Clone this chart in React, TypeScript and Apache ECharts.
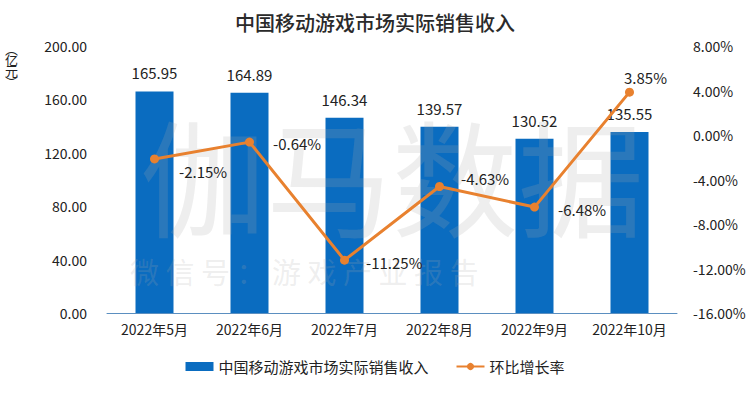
import React, { useEffect, useRef } from "react";
import * as echarts from "echarts";

const categories = ["2022年5月", "2022年6月", "2022年7月", "2022年8月", "2022年9月", "2022年10月"];
const revenue = [165.95, 164.89, 146.34, 139.57, 130.52, 135.55];
const growth = [-2.15, -0.64, -11.25, -4.63, -6.48, 3.85];
const leftTicks = { min: 0, max: 200, interval: 40 };
const rightTicks = { min: -16, max: 8, interval: 4 };
const seriesNames = ["中国移动游戏市场实际销售收入", "环比增长率"];
const growthLabelPositions = ["right", "right", "right", "right", "right", "top"];
const growthLabelOffsets = [
  [18, 13],
  [17, 1],
  [15, 2],
  [15, -8],
  [17, 2],
  [16, -1],
];

const FONT = "'Noto Sans CJK SC', 'Noto Sans', sans-serif";

export default function App() {
  const ref = useRef<HTMLDivElement>(null);
  useEffect(() => {
    const chart = echarts.init(ref.current!, null, { renderer: "svg" });
    chart.setOption({
      animation: false,
      backgroundColor: "#ffffff",
      textStyle: { fontFamily: FONT },
      title: {
        text: "中国移动游戏市场实际销售收入",
        left: "center",
        top: 7,
        textStyle: { fontSize: 20, fontWeight: 500, color: "#2a2a2a", fontFamily: FONT },
      },
      graphic: [
        {
          type: "text",
          left: 140,
          top: 110,
          z: 3,
          silent: true,
          style: { text: "伽马数据", fontSize: 126, fill: "rgba(170,170,170,0.2)", fontFamily: FONT },
        },
        {
          type: "text",
          left: 130,
          top: 256,
          z: 3,
          silent: true,
          style: { text: "微 信 号 ： 游 戏 产 业 报 告", fontSize: 29, fill: "rgba(170,170,170,0.2)", fontFamily: FONT },
        },
        {
          type: "text",
          left: 5,
          top: 42,
          silent: true,
          style: {
            text: "︵\n亿\n元\n︶",
            fontSize: 13,
            lineHeight: 11,
            fill: "#222",
            fontFamily: FONT,
            align: "center",
          },
        },
      ],
      legend: {
        bottom: 14,
        left: "center",
        itemGap: 27,
        itemWidth: 28,
        itemHeight: 9,
        textStyle: { fontSize: 15, color: "#222", fontFamily: FONT },
        data: [
          { name: seriesNames[0], icon: "rect" },
          { name: seriesNames[1] },
        ],
      },
      grid: {
        left: 107,
        right: 73,
        top: 46,
        bottom: 80,
        containLabel: false,
        outerBoundsMode: "none",
      },
      xAxis: {
        type: "category",
        data: categories,
        axisTick: { show: false },
        axisLine: { lineStyle: { color: "#5b8fc0", width: 1 } },
        axisLabel: { fontSize: 14, color: "#222", margin: 9, interval: 0, fontFamily: FONT },
      },
      yAxis: [
        {
          type: "value",
          ...leftTicks,
          splitLine: { show: false },
          axisLine: { show: false },
          axisTick: { show: false },
          axisLabel: { fontSize: 14, color: "#222", margin: 20, formatter: (v: number) => v.toFixed(2) },
        },
        {
          type: "value",
          ...rightTicks,
          splitLine: { show: false },
          axisLine: { show: false },
          axisTick: { show: false },
          axisLabel: { fontSize: 14, color: "#222", margin: 16, formatter: (v: number) => v.toFixed(2) + "%" },
        },
      ],
      series: [
        {
          name: seriesNames[0],
          type: "bar",
          data: revenue,
          barWidth: 38,
          z: 2,
          itemStyle: { color: "#0a6cc0" },
          label: {
            show: true,
            position: "top",
            distance: 11,
            fontSize: 15,
            color: "#222",
            formatter: (p: any) => p.value.toFixed(2),
          },
        },
        {
          name: seriesNames[1],
          type: "line",
          yAxisIndex: 1,
          z: 5,
          data: growth.map((v, i) => ({
            value: v,
            label: { position: growthLabelPositions[i], offset: growthLabelOffsets[i] },
          })),
          symbol: "circle",
          symbolSize: 9,
          lineStyle: { color: "#e8812f", width: 3 },
          itemStyle: { color: "#e8812f" },
          label: {
            show: true,
            position: "right",
            distance: 2,
            fontSize: 15,
            color: "#222",
            formatter: (p: any) => p.value.toFixed(2) + "%",
          },
        },
      ],
    });
    return () => chart.dispose();
  }, []);
  return (
    <div
      ref={ref}
      style={{ position: "absolute", left: 0, top: 0, width: 750, height: 393 }}
    />
  );
}
